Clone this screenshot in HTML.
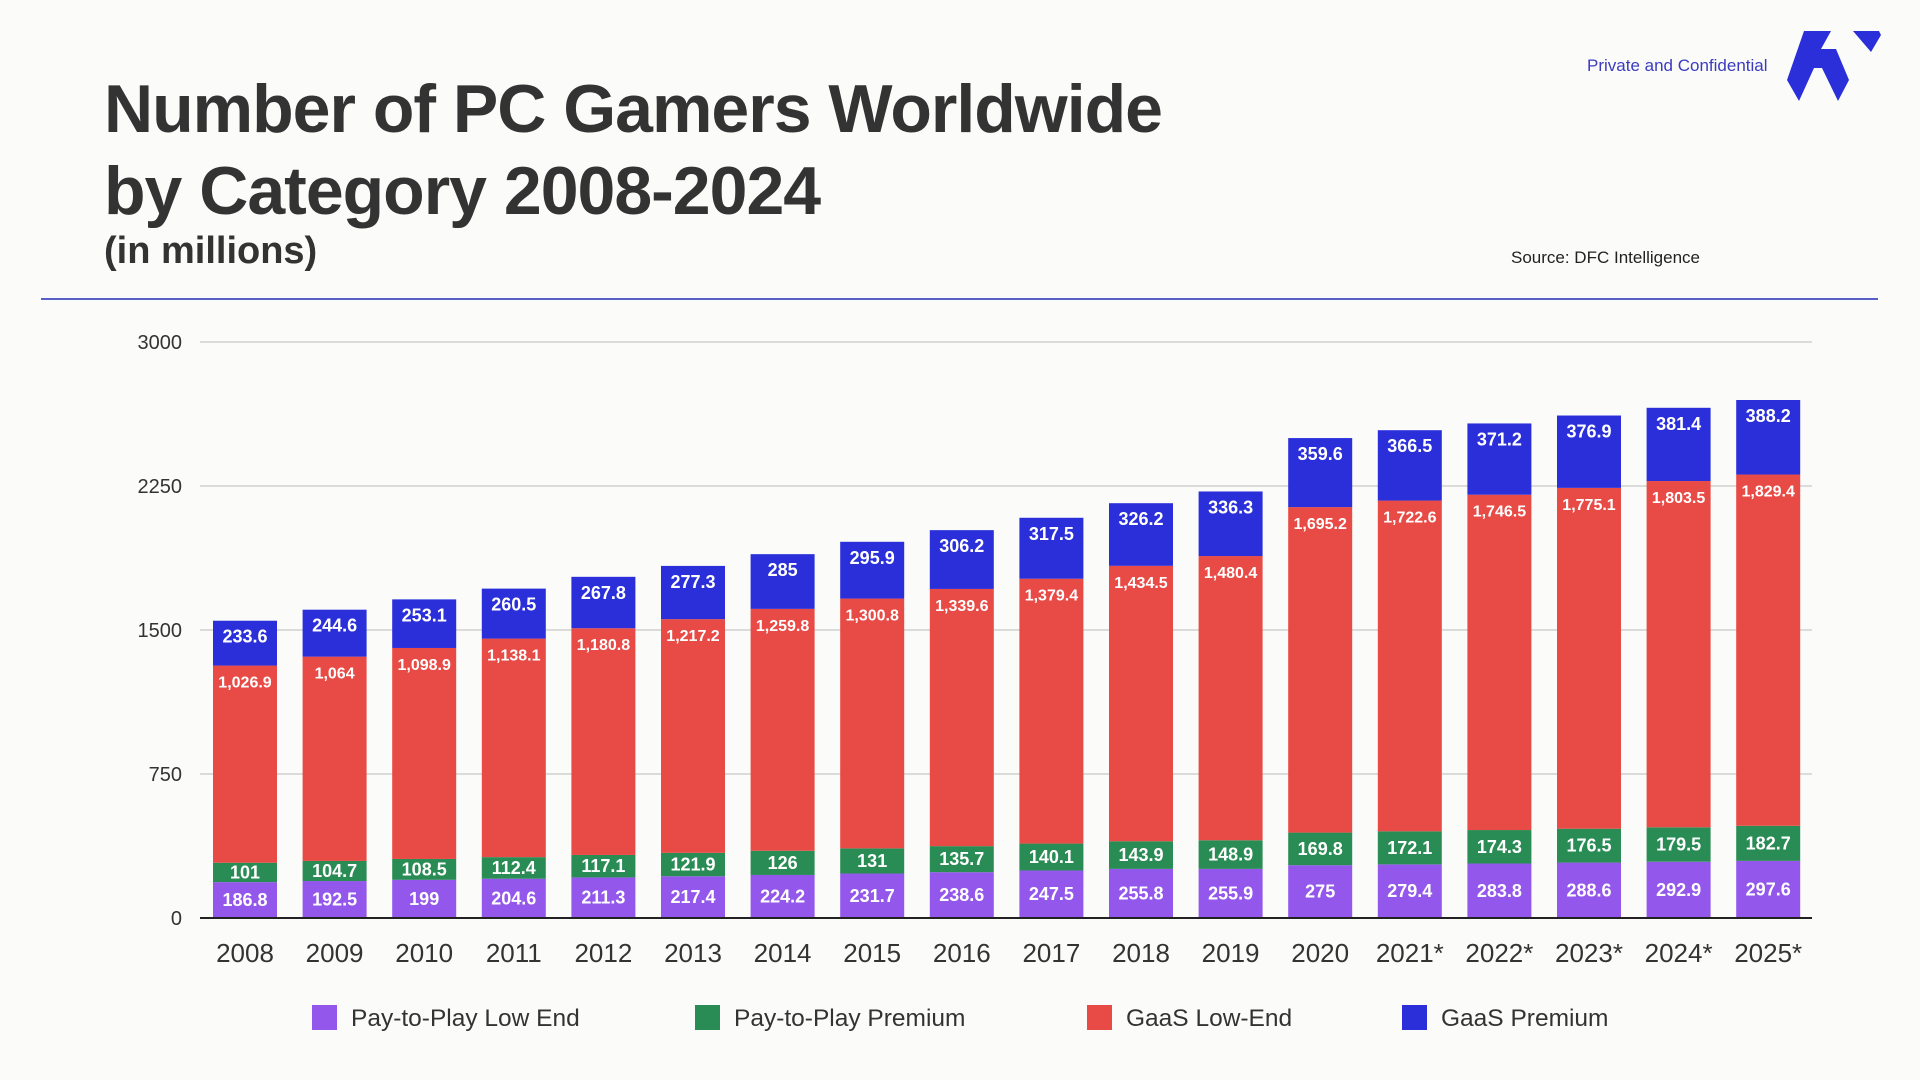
<!DOCTYPE html>
<html><head><meta charset="utf-8">
<style>
body{margin:0;background:#fbfcf9;font-family:"Liberation Sans",sans-serif;}
#wrap{position:relative;width:1920px;height:1080px;overflow:hidden;background:#fbfcf9;}
.t{position:absolute;white-space:nowrap;}
</style></head><body>
<div id="wrap">
<div class="t" style="left:104px;top:68px;font-size:68px;font-weight:bold;color:#333;line-height:82px;letter-spacing:-1px">Number of PC Gamers Worldwide<br>by Category 2008-2024</div>
<div class="t" style="left:104px;top:230px;font-size:38px;font-weight:bold;color:#333">(in millions)</div>
<div class="t" style="left:1587px;top:56px;font-size:17px;color:#3b3bc0">Private and Confidential</div>
<div class="t" style="left:1511px;top:248px;font-size:17px;color:#222">Source: DFC Intelligence</div>
<svg style="position:absolute;left:1786px;top:30px" width="96" height="74" viewBox="0 0 96 74">
<polygon points="18,1 45,1 35,19 50,19 63,50 52,71 36,38 28,38 13,71 1,50" fill="#2a2fd9"/>
<polygon points="67,1 93,1 95,5 85,22" fill="#2a2fd9"/>
</svg>
<div style="position:absolute;left:41px;top:298px;width:1837px;height:2px;background:#5a5fc8"></div>
<svg id="chart" width="1920" height="1080" style="position:absolute;left:0;top:0"></svg>
</div>
<script>
const years=["2008","2009","2010","2011","2012","2013","2014","2015","2016","2017","2018","2019","2020","2021*","2022*","2023*","2024*","2025*"];
const p2pLow=[186.8,192.5,199,204.6,211.3,217.4,224.2,231.7,238.6,247.5,255.8,255.9,275,279.4,283.8,288.6,292.9,297.6];
const p2pPrem=[101,104.7,108.5,112.4,117.1,121.9,126,131,135.7,140.1,143.9,148.9,169.8,172.1,174.3,176.5,179.5,182.7];
const gaasLow=[1026.9,1064,1098.9,1138.1,1180.8,1217.2,1259.8,1300.8,1339.6,1379.4,1434.5,1480.4,1695.2,1722.6,1746.5,1775.1,1803.5,1829.4];
const gaasPrem=[233.6,244.6,253.1,260.5,267.8,277.3,285,295.9,306.2,317.5,326.2,336.3,359.6,366.5,371.2,376.9,381.4,388.2];
const yTicks=[0,750,1500,2250,3000];
const seriesNames=["Pay-to-Play Low End","Pay-to-Play Premium","GaaS Low-End","GaaS Premium"];
const colors=["#9457eb","#2a8c55","#e84a45","#2a2fd9"];
const NS="http://www.w3.org/2000/svg";
const svg=document.getElementById('chart');
const y0=918,yTop=342,xL=200,xR=1812,x0=245,pitch=89.6,bw=64;
const y=v=>y0-(v/3000)*(y0-yTop);
const x=i=>x0+i*pitch;
function mk(tag,attrs,parent){const e=document.createElementNS(NS,tag);for(const k in attrs)e.setAttribute(k,attrs[k]);(parent||svg).appendChild(e);return e;}
function fmt(v){const s=String(v);const [a,b]=s.split('.');const ai=a.replace(/\B(?=(\d{3})+(?!\d))/g,',');return b?ai+'.'+b:ai;}
yTicks.forEach(t=>{
 if(t>0){const g=mk('line',{x1:xL,x2:xR,y1:y(t),y2:y(t),stroke:'#c8c8c8','stroke-width':1.2});
 
 }
 const l=mk('text',{x:182,y:y(t)+7,'text-anchor':'end','font-size':20,fill:'#333','font-family':'Liberation Sans, sans-serif'});
 l.textContent=t;
 
 
});
const series=[p2pLow,p2pPrem,gaasLow,gaasPrem];
years.forEach((yr,i)=>{
 let base=0;
 series.forEach((s,k)=>{
  const v=s[i];const top=base+v;
  const r=mk('rect',{x:x(i)-bw/2,y:y(top),width:bw,height:y(base)-y(top),fill:colors[k]});
  
  
  let ty;
  if(k>=2) ty=y(top)+22; else ty=(y(top)+y(base))/2+6;
  const tx=mk('text',{x:x(i),y:ty,'text-anchor':'middle','font-size':k==2?16:18,'font-weight':'bold',fill:'#fff','font-family':'Liberation Sans, sans-serif'});
  tx.textContent=fmt(v);
  
  
  base=top;
 });
 const xl=mk('text',{x:x(i),y:962,'text-anchor':'middle','font-size':26,fill:'#333','font-family':'Liberation Sans, sans-serif'});
 xl.textContent=yr;
 
 
});
const ax=mk('line',{x1:xL,x2:xR,y1:y0,y2:y0,stroke:'#222','stroke-width':2});


const legX=[312,695,1087,1402];
seriesNames.forEach((n,k)=>{
 const r=mk('rect',{x:legX[k],y:1005,width:25,height:25,fill:colors[k]});
 
 
 const t=mk('text',{x:legX[k]+39,y:1026,'font-size':24.5,fill:'#333','font-family':'Liberation Sans, sans-serif'});
 t.textContent=n;
 
 
});
</script>
</body></html>
